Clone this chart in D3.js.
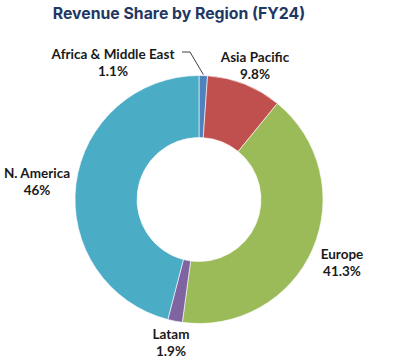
<!DOCTYPE html>
<html>
<head>
<meta charset="utf-8">
<script src="https://cdn.jsdelivr.net/npm/d3@7"></script>
<style>
  html, body { margin: 0; padding: 0; background: #ffffff; }
  svg { display: block; }
</style>
</head>
<body>
<svg id="chart" width="417" height="359"></svg>
<script>
const title = "Revenue Share by Region (FY24)";
const categories = ["Africa & Middle East", "Asia Pacific", "Europe", "Latam", "N. America"];
const values = [1.1, 9.8, 41.3, 1.9, 46];
const valueLabels = ["1.1%", "9.8%", "41.3%", "1.9%", "46%"];
const colors = ["#4f81bd", "#c0504d", "#9bbb59", "#8064a2", "#4bacc6"];

// label layout (x, y of first line baseline)
const labelLayout = [
  { x: 113, y: 59 },
  { x: 255, y: 62 },
  { x: 342, y: 259 },
  { x: 171, y: 339 },
  { x: 37, y: 178 }
];

const svg = d3.select("#chart");
const cx = 199, cy = 199.5, outerR = 124, innerR = 62;

svg.append("text")
  .attr("x", 179).attr("y", 19)
  .attr("text-anchor", "middle")
  .attr("font-family", "Inter, 'Open Sans', sans-serif")
  .attr("font-weight", 700)
  .attr("font-size", 15.8)
  .attr("fill", "#1f3864")
  .text(title);

const pie = d3.pie().sort(null).value(d => d)
  .startAngle(0).endAngle(2 * Math.PI * (values.reduce((a, b) => a + b, 0) / 100));
const arcs = pie(values);
const arc = d3.arc().innerRadius(innerR).outerRadius(outerR);

const g = svg.append("g").attr("transform", `translate(${cx},${cy})`);
g.selectAll("path").data(arcs).enter().append("path")
  .attr("d", arc)
  .attr("fill", (d, i) => colors[i])
  .attr("stroke", "#ffffff")
  .attr("stroke-width", 0.6);

// leader line for Africa & Middle East
const a0 = arcs[0];
const mid = (a0.startAngle + a0.endAngle) / 2;
const edgeX = cx + Math.sin(mid) * (outerR + 1);
const edgeY = cy - Math.cos(mid) * (outerR + 1);
svg.append("polyline")
  .attr("points", `182,52 190,52 ${edgeX},${edgeY}`)
  .attr("fill", "none")
  .attr("stroke", "#404040")
  .attr("stroke-width", 1);

const labels = svg.selectAll("text.lbl").data(categories).enter().append("text")
  .attr("class", "lbl")
  .attr("text-anchor", "middle")
  .attr("font-family", "Lato, 'Open Sans', sans-serif")
  .attr("font-weight", 700)
  .attr("font-size", 13.5)
  .attr("fill", "#1a1a1a");
labels.append("tspan")
  .attr("x", (d, i) => labelLayout[i].x)
  .attr("y", (d, i) => labelLayout[i].y)
  .text(d => d);
labels.append("tspan")
  .attr("x", (d, i) => labelLayout[i].x)
  .attr("y", (d, i) => labelLayout[i].y + 17)
  .text((d, i) => valueLabels[i]);
</script>
</body>
</html>
